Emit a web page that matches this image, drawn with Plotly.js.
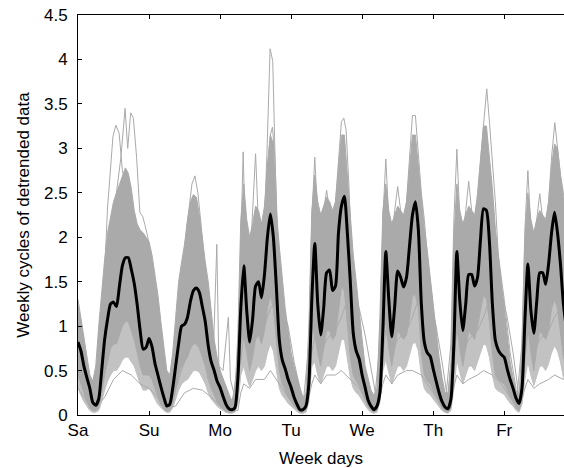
<!DOCTYPE html>
<html>
<head>
<meta charset="utf-8">
<script src="https://cdn.plot.ly/plotly-3.0.1.min.js"></script>
<style>html,body{margin:0;padding:0;background:#fff;overflow:hidden}#chart{width:564px;height:468px}</style>
</head>
<body>
<div id="chart"></div>
<script>
// hour-of-week index (0 = Saturday 00:00)
const hours = [];
for (let i = 0; i < 168; i++) hours.push(i);

const dayTickHours = [0, 24, 48, 72, 96, 120, 144];
const dayLabels = ['Sa', 'Su', 'Mo', 'Tu', 'We', 'Th', 'Fr'];

// mean weekly cycle (black line)
const meanCycle = [0.82,0.72,0.55,0.42,0.30,0.14,0.11,0.18,0.50,0.85,
1.08,1.25,1.27,1.22,1.45,1.68,1.77,1.77,1.64,1.48,
1.24,0.95,0.74,0.76,0.86,0.77,0.58,0.45,0.32,0.20,
0.10,0.12,0.30,0.55,0.80,1.00,1.02,1.10,1.28,1.40,
1.43,1.38,1.22,1.05,0.78,0.60,0.50,0.38,0.31,0.21,
0.12,0.07,0.06,0.08,0.40,1.20,1.68,1.18,0.82,1.08,
1.45,1.50,1.32,1.58,2.00,2.26,2.00,1.45,0.85,0.62,
0.52,0.40,0.31,0.20,0.12,0.06,0.06,0.10,0.35,1.30,
1.93,1.25,0.90,1.20,1.60,1.63,1.40,1.45,2.05,2.35,
2.46,2.05,1.50,0.92,0.72,0.63,0.45,0.31,0.17,0.10,
0.06,0.10,0.25,0.95,1.84,1.30,0.88,1.22,1.62,1.55,
1.44,1.55,1.90,2.25,2.40,2.08,1.25,0.82,0.70,0.66,
0.52,0.38,0.25,0.15,0.09,0.07,0.18,0.80,1.84,1.28,
0.95,1.25,1.58,1.58,1.45,1.55,1.98,2.32,2.30,1.95,
1.25,0.84,0.73,0.68,0.65,0.52,0.40,0.30,0.19,0.13,
0.30,1.07,1.70,1.18,0.92,1.28,1.60,1.60,1.47,1.70,
2.05,2.28,2.05,1.70,1.25,1.00,0.92,0.88];

// upper edge of the dense bundle of weekly cycles
const bundleHigh = [1.30,1.10,0.90,0.65,0.45,0.38,0.55,1.00,1.40,1.75,
2.05,2.25,2.40,2.50,2.60,2.70,2.78,2.72,2.55,2.30,
2.15,2.08,2.05,2.00,1.95,1.80,1.60,1.35,1.05,0.75,
0.50,0.45,0.70,1.10,1.50,1.72,1.92,2.20,2.40,2.48,
2.45,2.25,1.95,1.72,1.50,1.15,0.85,0.65,0.50,0.40,
0.30,0.22,0.16,0.22,0.90,2.20,2.60,2.20,2.00,2.15,
2.35,2.30,2.15,2.35,2.80,3.15,3.05,2.30,1.90,1.55,
1.20,0.95,0.70,0.55,0.42,0.28,0.18,0.25,1.00,2.30,
2.70,2.40,2.25,2.35,2.45,2.40,2.30,2.40,2.80,3.15,
3.15,2.70,2.20,1.80,1.50,1.15,0.85,0.55,0.40,0.28,
0.22,0.30,1.10,2.30,2.60,2.30,2.15,2.25,2.35,2.30,
2.25,2.40,2.80,3.15,3.15,2.80,2.45,2.10,1.85,1.55,
1.20,0.90,0.65,0.42,0.25,0.25,0.60,2.00,2.60,2.30,
2.15,2.25,2.35,2.30,2.25,2.45,2.90,3.25,3.25,2.90,
2.55,2.10,1.80,1.50,1.20,0.90,0.60,0.42,0.28,0.20,
0.80,2.00,2.50,2.20,2.05,2.20,2.30,2.25,2.20,2.40,
2.80,3.05,3.00,2.70,2.45,2.20,1.90,1.60];

// lower edge of the dense core of the bundle
const bundleMid = [0.45,0.35,0.25,0.15,0.08,0.05,0.05,0.08,0.25,0.45,
0.60,0.75,0.80,0.80,0.90,1.00,1.05,1.05,0.95,0.85,
0.70,0.55,0.45,0.45,0.45,0.40,0.30,0.20,0.12,0.07,
0.04,0.05,0.12,0.30,0.45,0.55,0.60,0.65,0.75,0.80,
0.80,0.75,0.65,0.55,0.40,0.30,0.22,0.15,0.10,0.07,
0.04,0.03,0.03,0.04,0.20,0.80,0.90,0.70,0.50,0.65,
0.85,0.90,0.80,0.95,1.20,1.35,1.20,0.85,0.50,0.35,
0.28,0.20,0.15,0.10,0.06,0.03,0.03,0.05,0.25,1.00,
0.90,0.70,0.55,0.75,0.95,0.95,0.85,0.90,1.15,1.45,
1.40,1.05,0.65,0.45,0.38,0.33,0.25,0.17,0.09,0.05,
0.03,0.05,0.30,0.90,1.05,0.75,0.55,0.75,0.95,0.90,
0.85,0.90,1.10,1.35,1.35,1.20,0.70,0.45,0.38,0.35,
0.28,0.20,0.13,0.07,0.04,0.03,0.08,0.50,1.05,0.75,
0.55,0.75,0.95,0.90,0.85,1.00,1.15,1.35,1.30,1.05,
0.70,0.45,0.40,0.37,0.35,0.28,0.20,0.15,0.08,0.05,
0.20,0.60,1.00,0.70,0.50,0.75,0.95,0.90,0.85,0.95,
1.20,1.30,1.20,0.95,0.65,0.55,0.50,0.48];

// lowest edge of the sparser lower part of the bundle
const bundleLow = [0.30,0.22,0.15,0.10,0.05,0.03,0.03,0.05,0.15,0.28,
0.38,0.45,0.50,0.50,0.55,0.62,0.65,0.65,0.60,0.55,
0.45,0.35,0.28,0.28,0.30,0.25,0.18,0.12,0.08,0.05,
0.03,0.03,0.08,0.18,0.28,0.35,0.38,0.40,0.45,0.50,
0.50,0.48,0.42,0.35,0.25,0.18,0.14,0.10,0.07,0.05,
0.03,0.02,0.02,0.03,0.12,0.45,0.55,0.42,0.32,0.40,
0.50,0.55,0.50,0.55,0.70,0.80,0.72,0.50,0.30,0.22,
0.18,0.13,0.10,0.07,0.04,0.02,0.02,0.03,0.15,0.55,
0.60,0.45,0.35,0.45,0.55,0.55,0.50,0.55,0.70,0.85,
0.85,0.65,0.42,0.30,0.25,0.22,0.17,0.11,0.06,0.03,
0.02,0.03,0.15,0.50,0.62,0.48,0.35,0.45,0.55,0.55,
0.50,0.55,0.68,0.80,0.82,0.72,0.45,0.30,0.25,0.23,
0.18,0.13,0.09,0.05,0.03,0.02,0.05,0.30,0.62,0.48,
0.35,0.45,0.55,0.55,0.50,0.58,0.70,0.80,0.78,0.65,
0.45,0.30,0.27,0.25,0.23,0.18,0.13,0.10,0.05,0.03,
0.12,0.40,0.60,0.45,0.33,0.45,0.55,0.55,0.50,0.58,
0.70,0.78,0.72,0.60,0.42,0.36,0.33,0.32];

// individual weekly cycles standing out of the bundle (hour, value)
const cycA_h = [6,8,10,11.8,12.8,13.9,15,16,17,18,19,20,22,24,26,28,30,32];
const cycA_v = [0.2,0.9,2.34,3.13,3.26,3.17,2.75,2.6,2.5,2.4,2.2,2.0,1.7,1.4,1.0,0.6,0.25,0.3];
const cycB_h = [8,11,13,14.5,15.9,16.8,17.8,18.7,19.8,20.9,21.9,22.6,23.6,25,27,29,31];
const cycB_v = [0.6,1.8,2.5,2.9,3.45,3.0,3.40,3.34,2.9,2.28,2.23,2.14,2.0,1.6,1.0,0.5,0.3];
const cycC_h = [31,33,35,37,38.5,39.5,40.5,42,44,46,48,50];
const cycC_v = [0.2,0.8,1.6,2.2,2.6,2.69,2.5,2.0,1.3,0.7,0.4,0.2];
const cycD_h = [52,54,55,55.8,56.6,58,59,60,61,62,63,63.8,64.9,65.8,66.5,67.3,69,71,73,75];
const cycD_v = [0.1,0.6,1.9,2.96,1.9,1.6,2.3,2.94,2.1,1.9,2.2,2.9,4.12,3.98,3.0,1.97,1.0,0.6,0.3,0.15];
const cycE_h = [62,63,64,65,65.7,66.5,67.5,69];
const cycE_v = [1.8,2.2,2.8,3.15,3.24,2.9,2.0,1.2];
const cycF_h = [76,78,79,80,81,82,83,84,85,86,87,88,89,89.8,90.6,91.5,92.5,94,96,98];
const cycF_v = [0.1,0.8,2.2,2.9,2.2,2.1,2.3,2.53,2.3,2.1,2.4,2.9,3.3,3.34,3.2,2.6,1.8,1.1,0.6,0.3];
const cycG_h = [100,102,103,104,105,106,107,108,109,110,111,112,113,114,115,116,117,118,120,122];
const cycG_v = [0.1,0.8,2.2,2.88,2.2,2.0,2.3,2.57,2.3,2.15,2.4,2.9,3.37,3.37,2.9,2.5,2.2,1.8,1.2,0.5];
const cycH_h = [124,126,127,128,129,130,131,132,133,134,135,136,137,138.1,139,140,141,142,144,146,148];
const cycH_v = [0.1,0.8,2.2,2.99,2.2,2.0,2.3,2.63,2.3,2.2,2.5,2.9,3.3,3.67,3.3,2.9,2.4,1.8,1.3,0.7,0.3];
const cycI_h = [148,150,151,152,153,154,155,156,157,158,159,160,161.1,162,163,164,166];
const cycI_v = [0.1,0.8,2.1,2.75,2.1,2.0,2.2,2.49,2.2,2.1,2.4,2.9,3.29,3.0,2.7,2.5,2.0];
const cycJ_h = [40,42,44,45.5,46.9,47.6,49,50.8,51.5,53,54,55];
const cycJ_v = [1.2,0.9,0.6,0.45,1.92,0.55,0.5,1.1,0.4,0.2,0.5,1.4];
const cycK_h = [0,3,6,9,12,15,18,21,24,27,30,33,36,39,42,45,48,51,54,55,56,58,60,63,65,68,71,74,77,79,80,82,84,87,89,92,95,98,101,103,104,106,108,111,113,116,119,122,125,127,128,130,132,135,137,140,143,146,149,151,152,154,156,159,161,164,167];
const cycK_v = [0.3,0.15,0.08,0.2,0.4,0.5,0.45,0.35,0.3,0.2,0.08,0.1,0.25,0.3,0.28,0.2,0.1,0.05,0.05,0.25,0.35,0.3,0.4,0.4,0.5,0.35,0.2,0.08,0.05,0.35,0.45,0.35,0.45,0.45,0.5,0.4,0.3,0.15,0.05,0.35,0.45,0.35,0.45,0.5,0.5,0.45,0.3,0.15,0.05,0.3,0.45,0.35,0.4,0.45,0.5,0.45,0.35,0.2,0.05,0.3,0.4,0.3,0.35,0.4,0.45,0.4,0.35];
const cycL_h = [0,4,8,12,16,20,24,28,32,36,40,44,48,52,55,56,58,60,63,65,67,69,71,73,75,77,79,80,82,84,87,89,91,93,95,97,99,101,103,104,106,108,111,113,115,117,119,121,123,125,127,128,130,132,135,137,139,141,143,145,147,149,151,152,154,156,159,161,163,165,167];
const cycL_v = [0.9,0.35,0.5,1.0,1.3,1.2,1.0,0.6,0.2,0.6,0.9,0.8,0.5,0.15,0.6,0.9,0.7,0.9,1.0,1.2,1.3,1.2,1.0,0.6,0.3,0.1,0.7,0.9,0.7,0.85,0.95,1.1,1.3,1.35,1.2,0.9,0.5,0.15,0.7,0.95,0.7,0.85,0.95,1.1,1.3,1.4,1.3,1.0,0.6,0.15,0.7,0.95,0.7,0.85,0.95,1.1,1.3,1.45,1.4,1.1,0.7,0.2,0.7,0.95,0.7,0.85,0.95,1.1,1.2,1.1,1.0];

const GRAY = '#aaaaaa';
const LIGHTGRAY = '#c2c2c2';
const traces = [];

// sparser lower part of the bundle
traces.push({
  x: hours.concat(hours.slice().reverse()),
  y: bundleMid.concat(bundleLow.slice().reverse()),
  type: 'scatter', mode: 'lines', fill: 'toself',
  fillcolor: LIGHTGRAY, line: {color: LIGHTGRAY, width: 1},
  hoverinfo: 'skip', showlegend: false
});
// dense core of the bundle
traces.push({
  x: hours.concat(hours.slice().reverse()),
  y: bundleHigh.concat(bundleMid.slice().reverse()),
  type: 'scatter', mode: 'lines', fill: 'toself',
  fillcolor: GRAY, line: {color: GRAY, width: 1},
  hoverinfo: 'skip', showlegend: false
});

const cycles = [[cycK_h,cycK_v],[cycL_h,cycL_v],[cycA_h,cycA_v],[cycB_h,cycB_v],[cycC_h,cycC_v],
  [cycD_h,cycD_v],[cycE_h,cycE_v],[cycF_h,cycF_v],[cycG_h,cycG_v],[cycH_h,cycH_v],[cycI_h,cycI_v],[cycJ_h,cycJ_v]];
cycles.forEach(c => traces.push({
  x: c[0], y: c[1], type: 'scatter', mode: 'lines',
  line: {color: GRAY, width: 1}, hoverinfo: 'skip', showlegend: false
}));

traces.push({
  x: hours, y: meanCycle, type: 'scatter', mode: 'lines',
  line: {color: '#000000', width: 3, shape: 'spline', smoothing: 0.6}, showlegend: false
});

const FONT = 'Liberation Sans, Arial, Helvetica, sans-serif';
const layout = {
  width: 564, height: 468,
  margin: {l: 78, r: 0, t: 15, b: 53},
  paper_bgcolor: '#ffffff', plot_bgcolor: '#ffffff',
  font: {family: FONT, size: 17, color: '#000000'},
  xaxis: {
    range: [0, 164.2],
    tickvals: dayTickHours, ticktext: dayLabels,
    ticks: 'inside', ticklen: 4, tickcolor: '#000', tickwidth: 1,
    showline: true, linecolor: '#000', linewidth: 1, mirror: 'ticks',
    showgrid: false, zeroline: false,
    tickfont: {family: FONT, size: 17},
    title: {text: 'Week days', font: {family: FONT, size: 17}, standoff: 12}
  },
  yaxis: {
    range: [0, 4.5], dtick: 0.5, tick0: 0,
    ticks: 'inside', ticklen: 4, tickcolor: '#000', tickwidth: 1,
    showline: true, linecolor: '#000', linewidth: 1, mirror: false,
    showgrid: false, zeroline: false,
    tickfont: {family: FONT, size: 17},
    ticklabelstandoff: 6,
    title: {text: 'Weekly cycles of detrended data', font: {family: FONT, size: 17}, standoff: 10}
  }
};

Plotly.newPlot('chart', traces, layout, {displayModeBar: false, staticPlot: true});
</script>
</body>
</html>
